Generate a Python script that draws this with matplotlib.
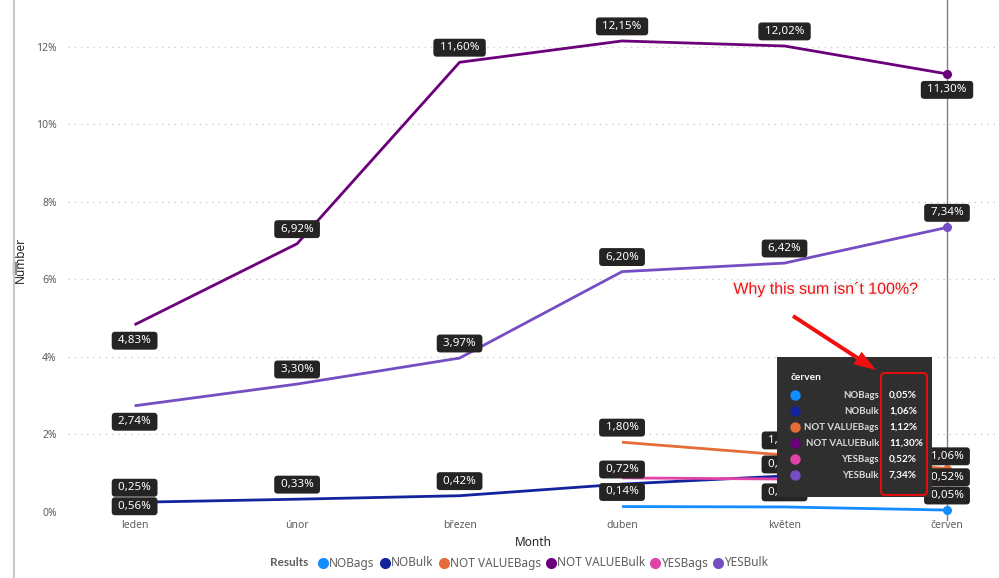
import numpy as np
import matplotlib
matplotlib.use("Agg")
import matplotlib.pyplot as plt
from matplotlib.patches import FancyBboxPatch, Rectangle, FancyArrow
import matplotlib.patheffects as pe

plt.rcParams['font.family'] = ['Noto Sans', 'DejaVu Sans']

# ---------------- data ----------------
months = ["leden", "únor", "březen", "duben", "květen", "červen"]
series_names = ["NOBags", "NOBulk", "NOT VALUEBags", "NOT VALUEBulk", "YESBags", "YESBulk"]
nobags = [np.nan, np.nan, np.nan, 0.14, 0.13, 0.05]
nobulk = [0.25, 0.33, 0.42, 0.72, 0.93, 1.06]
notvalue_bags = [np.nan, np.nan, np.nan, 1.80, 1.47, 1.12]
notvalue_bulk = [4.83, 6.92, 11.60, 12.15, 12.02, 11.30]
yesbags = [0.56, np.nan, np.nan, 0.88, 0.85, 0.52]
yesbulk = [2.74, 3.30, 3.97, 6.20, 6.42, 7.34]
yticks = [0, 2, 4, 6, 8, 10, 12]
tooltip_month = "červen"

# ---------------- style ----------------
colors = ["#118DFF", "#12239E", "#E66C37", "#6B007B", "#E044A7", "#744EC2"]
# label placement per point: 'a' above, 'b' below, None hidden
placements = [
    [None, None, None, 'a', 'a', 'a'],
    ['a', 'a', 'a', 'a', None, 'a'],
    [None, None, None, 'a', 'a', None],
    ['b', 'a', 'a', 'a', 'a', 'b'],
    ['b', None, None, None, 'a', 'a'],
    ['b', 'a', 'a', 'a', 'a', 'a'],
]
all_series = [nobags, nobulk, notvalue_bags, notvalue_bulk, yesbags, yesbulk]
BOLD = ['Lato', 'DejaVu Sans']

W, H = 999, 578
fig = plt.figure(figsize=(W / 100, H / 100), dpi=100)
fig.patch.set_facecolor("white")

def fx(px):
    return px / W

def fy(py):
    return 1 - py / H

ax_left, ax_right, ax_bottom, ax_top = 68, 999, 512, 8
ax = fig.add_axes([fx(ax_left), fy(ax_bottom), fx(ax_right - ax_left), (ax_bottom - ax_top) / H])
ax.set_facecolor("none")
x = np.arange(len(months))
ax.set_xlim(-0.41, 5.32)
ax.set_ylim(0, 13.0)

for s in ax.spines.values():
    s.set_visible(False)
ax.set_yticks(yticks)
ax.set_yticklabels([f"{t}%" for t in yticks])
ax.set_xticks(x)
ax.set_xticklabels(months)
ax.tick_params(axis='both', length=0, colors="#605E5C", labelsize=7.5)
ax.tick_params(axis='y', pad=8)
ax.tick_params(axis='x', pad=6)
for t in yticks:
    ax.axhline(t, color="#C8C6C4", lw=0.9, ls=(0, (1, 4)), zorder=0)

ax.set_xlabel("Month", fontsize=8.5, color="#252423", labelpad=3)
ax.set_ylabel("Number", fontsize=8.5, color="#252423")
ax.yaxis.set_label_coords((27 - ax_left) / (ax_right - ax_left), (ax_bottom - 260) / (ax_bottom - ax_top))

# hover line
ax.plot([5, 5], [-0.2, 13.3], color="#808080", lw=1, clip_on=False, zorder=1)

def fmt(v):
    return f"{v:.2f}".replace('.', ',') + "%"

for vals, col in zip(all_series, colors):
    ax.plot(x, vals, color=col, lw=2, zorder=3, clip_on=False, solid_capstyle='butt')
    ax.plot([x[-1]], [vals[-1]], 'o', color=col, ms=5.5, zorder=4, clip_on=False)

for vals, plc in zip(all_series, placements):
    for i, (v, p) in enumerate(zip(vals, plc)):
        if p is None or np.isnan(v):
            continue
        dy = 10.5 if p == 'a' else -11.5
        ax.annotate(f" {fmt(v)} ", (i, v), xytext=(0, dy), textcoords='offset points',
                    ha='center', va='center', color='white', fontsize=8.3, zorder=6,
                    annotation_clip=False,
                    bbox=dict(boxstyle='round,pad=0.3,rounding_size=0.3', fc='#252423', ec='none'))

# overlay for annotations
ov = fig.add_axes([0, 0, 1, 1])
ov.set_xlim(0, W)
ov.set_ylim(H, 0)
ov.axis('off')
ov.set_zorder(10)
ov.patch.set_alpha(0)

# left frame line
ov.plot([14, 14], [0, H], color="#C8C8C8", lw=1.5)
ov.add_patch(Rectangle((12.5, 262), 3, 12, color="#8a8a8a"))

# tooltip
ov.add_patch(FancyBboxPatch((777, 357), 155, 140, boxstyle='square,pad=0', fc='#2F2F2F', ec='none', zorder=11))
ov.text(791, 378, tooltip_month, color='white', fontsize=7.3, fontweight='bold', family=BOLD,
        va='center', zorder=12)
for k, (name, col, vals) in enumerate(zip(series_names, colors, all_series)):
    yy = 395 + 16 * k
    ov.plot([795], [yy], 'o', color=col, ms=6.5, zorder=12)
    ov.text(879, yy, name, color='#DADADA', fontsize=6.9, fontweight='bold', family=BOLD,
            ha='right', va='center', zorder=12)
    ov.text(889, yy, fmt(vals[-1]), color='white', fontsize=7.2, fontweight='bold', family=BOLD,
            ha='left', va='center', zorder=12)
ov.add_patch(FancyBboxPatch((881, 373), 46, 122, boxstyle='round,pad=0,rounding_size=4',
                            fc='none', ec='#E01010', lw=1.5, zorder=13))

# question text and arrow
ov.text(826, 289, "Why this sum isn´t 100%?", color='#F01010', fontsize=11.5,
        family=['Liberation Sans', 'DejaVu Sans'], ha='center', va='center', zorder=12,
        path_effects=[pe.withStroke(linewidth=3, foreground='#F4F4F4')])
ov.add_patch(FancyArrow(793, 316, 876 - 793, 370 - 316, width=4, head_width=15, head_length=22,
                        length_includes_head=True, fc='#F01010', ec='none', zorder=12))

# legend
r = fig.canvas.get_renderer()
lx, ly = 270, 563
t = ov.text(lx, ly, "Results", fontsize=8.5, fontweight='bold', family=BOLD, color='#605E5C', va='center')
bb = t.get_window_extent(renderer=r)
lx += bb.width + 15
for name, col in zip(series_names, colors):
    ov.plot([lx], [ly], 'o', color=col, ms=7)
    t = ov.text(lx + 6, ly, name, fontsize=8.5, color='#605E5C', va='center')
    bb = t.get_window_extent(renderer=r)
    lx += bb.width + 16

fig.savefig("out.png", dpi=100)
